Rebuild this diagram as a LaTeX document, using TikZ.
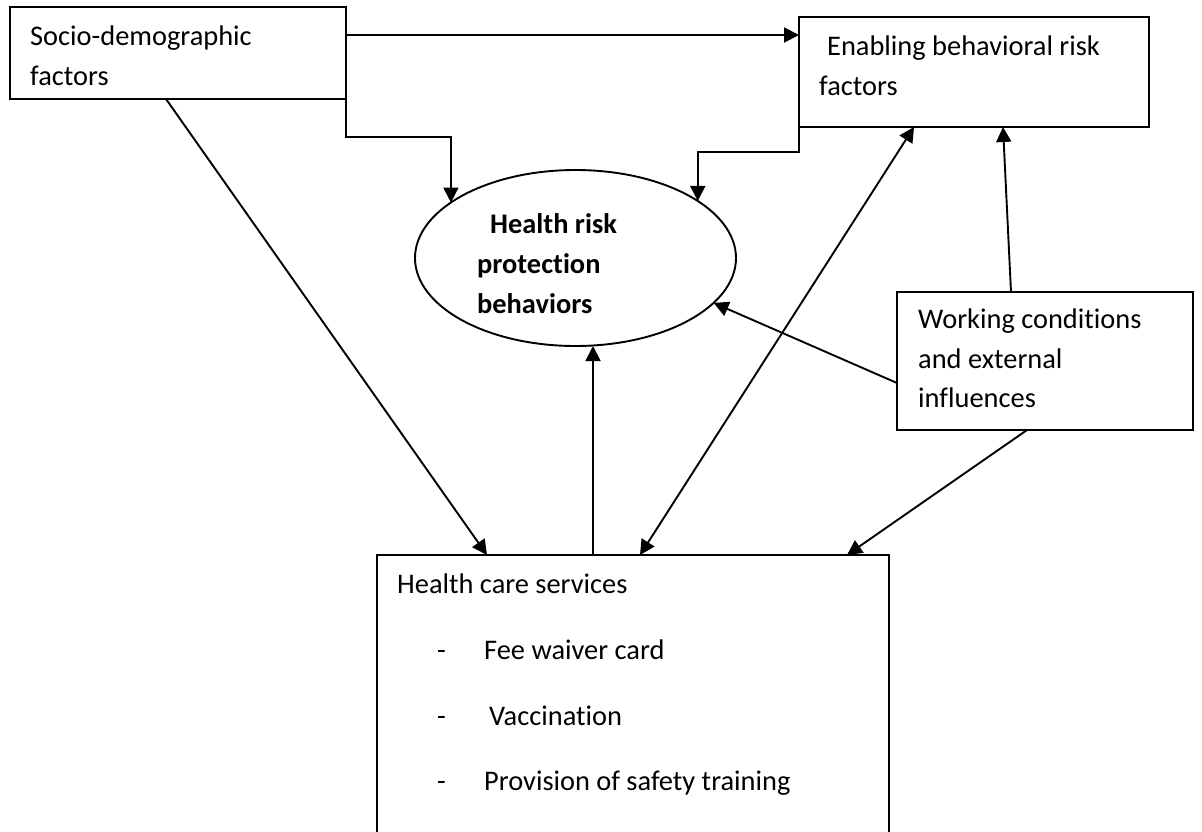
\documentclass[tikz,border=0pt]{standalone}
\usepackage{fontspec}
\setmainfont{Carlito}[Ligatures=NoCommon]
\usetikzlibrary{shapes.geometric,arrows.meta}
\begin{document}
\begin{tikzpicture}[x=1pt,y=-1pt,
  box/.style={draw, line width=2.2pt, rectangle, inner sep=0pt, outer sep=0pt, anchor=north west},
  lbl/.style={inner sep=0pt, anchor=base west, font=\fontsize{28.4}{40}\selectfont},
  blbl/.style={lbl, font=\fontsize{28.4}{40}\selectfont\bfseries},
  arr/.style={line width=1.9pt, -{Triangle[length=15pt,width=15pt]}},
  biarr/.style={line width=1.9pt, {Triangle[length=15pt,width=15pt]}-{Triangle[length=15pt,width=15pt]}}]
\clip (0,0) rectangle (1202,831);
\fill[white] (0,0) rectangle (1202,831);
% boxes
\node[box, minimum width=336pt, minimum height=92pt] (socio) at (10,7) {};
\node[box, minimum width=350pt, minimum height=110pt] (enab) at (799,17) {};
\node[box, minimum width=296pt, minimum height=138pt] (work) at (897,292) {};
\node[box, minimum width=512pt, minimum height=320pt] (hc) at (377,555) {};
\node[draw, ellipse, line width=1.9pt, inner sep=0pt, outer sep=0pt, minimum width=321pt, minimum height=176pt] (hrp) at (575.5,258) {};
% texts
\node[lbl] (socio1) at (30,45) {Socio-demographic};
\node[lbl] (socio2) at (30,85) {factors};
\node[lbl] (enab1) at (827,55) {Enabling behavioral risk};
\node[lbl] (enab2) at (819,95) {factors};
\node[blbl] (hrp1) at (490,233) {Health risk};
\node[blbl] (hrp2) at (477,273) {protection};
\node[blbl] (hrp3) at (477,313) {behaviors};
\node[lbl] (work1) at (918,328) {Working conditions};
\node[lbl] (work2) at (918,368) {and external};
\node[lbl] (work3) at (918,407) {influences};
\node[lbl] (hc0) at (397,593) {Health care services};
\node[lbl] (hcd1) at (437,659) {-};
\node[lbl] (hc1) at (484,659) {Fee waiver card};
\node[lbl] (hcd2) at (437,725) {-};
\node[lbl] (hc2) at (489,725) {Vaccination};
\node[lbl] (hcd3) at (437,790) {-};
\node[lbl] (hc3) at (484,790) {Provision of safety training};
% connectors
\draw[arr] ([yshift=-28pt]socio.north east) -- ([yshift=-28pt]socio.north east -| enab.west);
\draw[arr] (socio.south east) -- ++(0,38) -| (hrp.156.3);
\draw[arr] (enab.south west) -- ++(0,25) -| (hrp.25.7);
\draw[arr] ([xshift=156pt]socio.south west) -- ([xshift=110pt]hc.north west);
\draw[biarr] ([xshift=263pt]hc.north west) -- ([xshift=115pt]enab.south west);
\draw[arr] ([xshift=216pt]hc.north west) -- ([xshift=216pt]hc.north west |- hrp.south);
\draw[arr] ([yshift=-91pt]work.north west) -- (hrp.-18.3);
\draw[arr] ([xshift=114pt]work.north west) -- ([xshift=204pt]enab.south west);
\draw[arr] ([xshift=130pt]work.south west) -- ([xshift=470pt]hc.north west);
\end{tikzpicture}
\end{document}
